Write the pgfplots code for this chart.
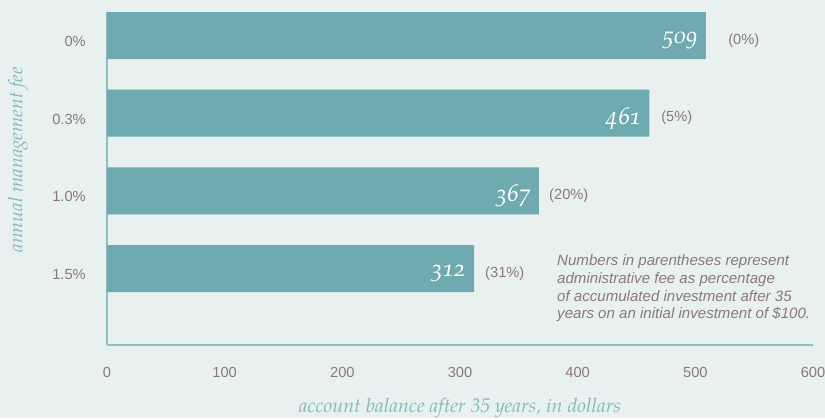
\documentclass[border=0pt]{standalone}
\usepackage{fontspec}
\setmainfont{Liberation Sans}
\newfontfamily\pagold[Numbers=OldStyle]{TeX Gyre Pagella}
\newfontfamily\pagl{TeX Gyre Pagella}
\usepackage{pgfplots}
\pgfplotsset{compat=1.18}
\definecolor{bg}{HTML}{E9F1F0}
\definecolor{barc}{HTML}{6EAAB0}
\definecolor{axl}{HTML}{8FBDC1}
\definecolor{tickc}{HTML}{8A7A73}
\definecolor{ttl}{HTML}{86BAC0}
\begin{document}
\begin{tikzpicture}
\path[use as bounding box, fill=bg] (0pt,0pt) rectangle (618.75pt,313.5pt);
\begin{axis}[
  at={(80.25pt,54.75pt)}, anchor=south west,
  scale only axis, width=529.5pt, height=249.75pt,
  xbar, bar width=35.25pt, bar shift=0pt,
  xmin=0, xmax=600, ymin=-0.3026, ymax=3.985, y dir=reverse,
  axis x line=bottom, axis y line=left,
  axis line style={draw=axl, line width=0.9pt, -},
  xtick={0,100,...,600}, ytick={0,1,2,3},
  yticklabels={0\%,0.3\%,1.0\%,1.5\%},
  major tick length=0pt,
  tick label style={font=\fontsize{11}{13}\selectfont, text=tickc},
  /pgf/number format/assume math mode=true,
  xticklabel style={anchor=north, inner sep=0pt}, xticklabel shift=16.5pt,
  yticklabel style={anchor=east, inner sep=0pt, yshift=-4.5pt}, yticklabel shift=15.75pt,
  nodes near coords,
  every node near coord/.append style={anchor=east, xshift=-3.5pt, yshift=-4pt, text=white, font=\pagold\itshape\fontsize{18}{21}\selectfont},
  xlabel={account balance after 35 years, in dollars},
  ylabel={annual management fee},
  xlabel style={at={(axis description cs:0.5,-0.19)}, anchor=center, font=\pagl\itshape\fontsize{14.8}{17}\selectfont, text=ttl},
  ylabel style={at={(axis description cs:-0.126,0.5)}, xshift=13.9pt, anchor=center, font=\pagl\itshape\fontsize{14.6}{17}\selectfont, text=ttl},
  clip=false,
]
\addplot[fill=barc, draw=none] coordinates {(509,0) (461,1) (367,2) (312,3)};
\node[anchor=west, inner sep=0pt, yshift=-3.6pt, font=\fontsize{11}{13}\selectfont, text=tickc] at (axis cs:527.8,0) {(0\%)};
\node[anchor=west, inner sep=0pt, yshift=-3.6pt, font=\fontsize{11}{13}\selectfont, text=tickc] at (axis cs:470.9,1) {(5\%)};
\node[anchor=west, inner sep=0pt, yshift=-3.6pt, font=\fontsize{11}{13}\selectfont, text=tickc] at (axis cs:375.6,2) {(20\%)};
\node[anchor=west, inner sep=0pt, yshift=-3.6pt, font=\fontsize{11}{13}\selectfont, text=tickc] at (axis cs:321.2,3) {(31\%)};
\node[anchor=base west, align=left, inner sep=0pt, font=\itshape\fontsize{11.3}{13.4}\selectfont, text=tickc] at (axis cs:382.4,3.650) {Numbers in parentheses represent\\administrative fee as percentage\\of accumulated investment after 35\\years on an initial investment of \$100.};
\end{axis}
\end{tikzpicture}
\end{document}
